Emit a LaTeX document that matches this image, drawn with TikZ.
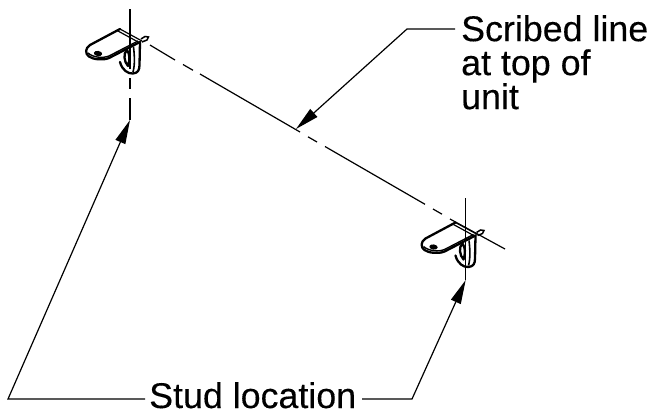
\documentclass[tikz,border=0pt]{standalone}
\usepackage{fontspec}
\setmainfont[FakeBold=0.25]{Liberation Sans}
\usetikzlibrary{arrows.meta}
\tikzset{
 x=1pt,y=-1pt,
 thinline/.style={line width=1.2pt,black},
 leader/.style={line width=1.2pt,black,line join=miter},
 tip/.style={-{Triangle[length=24pt,width=10.5pt]}},
 thick part/.style={line width=2.3pt,black,line join=round,line cap=round},
 lab/.style={inner sep=0pt,font=\fontsize{35.8}{34}\selectfont},
 bracket/.pic={
  \draw[thick part] (120,29) -- (90,45) .. controls (85,48) and (85,54) .. (89,56.5)
     .. controls (93,59.5) and (103,60.5) .. (109,58) -- (140,42);
  \draw[line width=1.4pt] (88,53) .. controls (93,57.5) and (103,58.5) .. (109,56) -- (138,41);
  \draw[thick part] (120,62) .. controls (122,70) and (128,74) .. (133,73.5)
     .. controls (138,73) and (139.5,70) .. (139.5,65) -- (140,42);
  \draw[line width=1.6pt] (133.5,47) .. controls (134.5,55) and (135,65) .. (133,72);
  \draw[thick part] (127,50) .. controls (123,53) and (124,62) .. (128,66) .. controls (130,60) and (130,54) .. (127,50);
  \draw[line width=1.2pt] (120,29) -- (142,41);
  \draw[line width=1.2pt] (118,31) -- (140,43);
  \draw[line width=1.5pt] (141,39) -- (145,36.5) -- (148.5,37) -- (147,40) -- (142,42);
  \fill[rotate around={-8:(98,53.5)}] (98,53.5) ellipse [x radius=4.2,y radius=2.6];
 }
}
\begin{document}
\begin{tikzpicture}
\useasboundingbox (0,0) rectangle (652,413);
\coordinate (s0) at (150,45); \coordinate (s1) at (175,60);
\coordinate (s2) at (183,64.5); \coordinate (s3) at (193,70.3);
\coordinate (s4) at (200,74); \coordinate (s5) at (300,132);
\coordinate (s6) at (308,136.8); \coordinate (s7) at (317,142);
\coordinate (s8) at (325,146.5); \coordinate (s9) at (425,204.3);
\coordinate (s10) at (433,209); \coordinate (s11) at (442,214.2);
\coordinate (s12) at (450,219); \coordinate (s13) at (505,249);
\draw[thinline] (s0)--(s1) (s2)--(s3) (s4)--(s5) (s6)--(s7) (s8)--(s9) (s10)--(s11) (s12)--(s13);
\coordinate (a0) at (130,9); \coordinate (a1) at (130,69);
\coordinate (a2) at (130,78); \coordinate (a3) at (130,89);
\coordinate (a4) at (130,98); \coordinate (a5) at (130,120);
\draw[thinline] (a0)--(a1) (a2)--(a3) (a4)--(a5);
\coordinate (b0) at (465.7,198); \coordinate (b1) at (465.7,280);
\draw[thinline] (b0)--(b1);
\pic at (0,0) {bracket};
\pic at (335.5,193.5) {bracket};
\node[lab,anchor=north west,align=left] (scribed) at (461,15) {Scribed line\\at top of\\unit};
\node[lab,anchor=base west] (stud) at (149,408) {Stud location};
\coordinate (sc1) at (455,29); \coordinate (sc2) at (407,29); \coordinate (sc3) at (296,129);
\draw[leader,tip] (sc1)--(sc2)--(sc3);
\coordinate (l1) at (145,399); \coordinate (l2) at (8,399);
\draw[leader,tip] (l1)--(l2)--(a5);
\coordinate (r1) at (362,399); \coordinate (r2) at (412,399);
\draw[leader,tip] (r1)--(r2)--(b1);
\end{tikzpicture}
\end{document}
